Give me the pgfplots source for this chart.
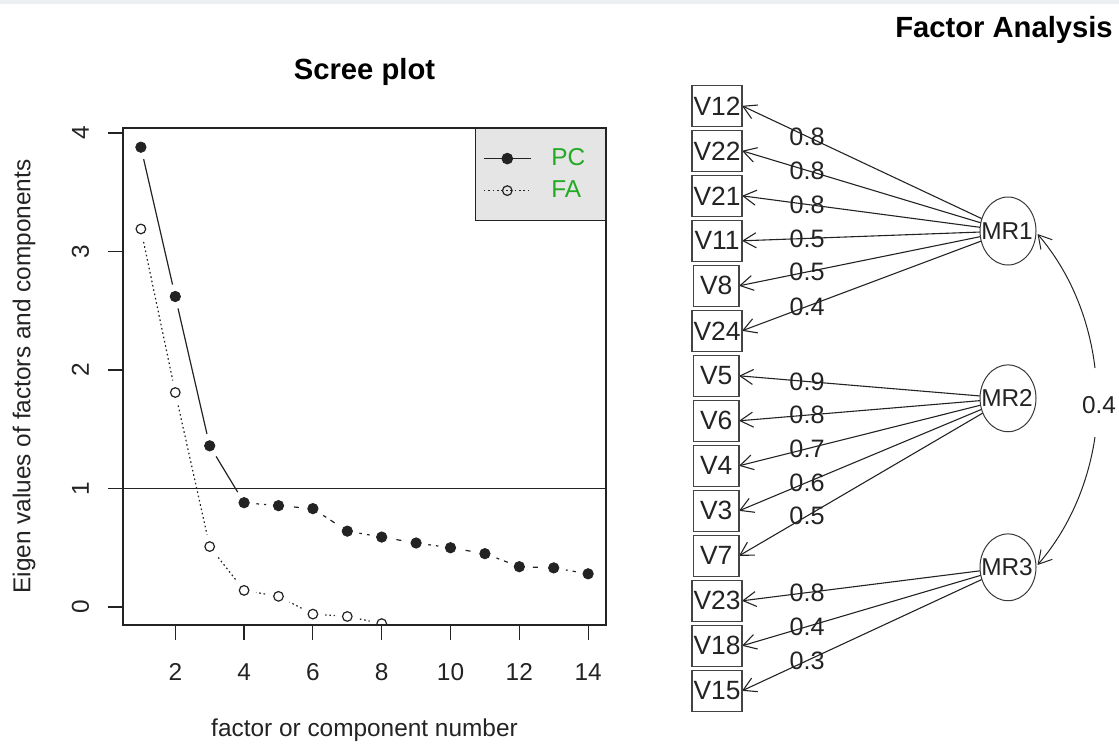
\documentclass[border=0pt]{standalone}
\usepackage{fontspec}
\setmainfont{Liberation Sans}
\usepackage{pgfplots}
\pgfplotsset{compat=1.18}
\usetikzlibrary{arrows.meta}
\definecolor{leggreen}{RGB}{34,170,34}
\definecolor{ink}{RGB}{35,35,35}
\definecolor{topband}{RGB}{236,239,242}
\newcommand\basefont{\fontsize{12.2}{14.6}\selectfont}
\newcommand\boxfont{\fontsize{13.2}{15.8}\selectfont}
\newcommand\loadfont{\fontsize{12.6}{15}\selectfont}
\newcommand\titlefont{\fontsize{14.6}{17.5}\selectfont\bfseries}
\tikzset{
  barb/.style={-{Straight Barb[length=6.5pt,width=7.5pt]}},
  load/.style={ink, line width=0.55pt, barb},
  lab/.style={font=\loadfont, text=ink, inner sep=0pt},
  mrlab/.style={font=\basefont, text=ink, inner sep=0pt},
  vbox/.style={draw=ink!85, line width=0.65pt, minimum height=20.5pt, inner sep=0pt, font=\boxfont, text=ink, fill=white},
}
\begin{document}
\begin{tikzpicture}
\useasboundingbox (0,0) rectangle (559.5pt,373pt);
% ---------------- Factor analysis diagram (pixel coordinates) ----------------
\begin{axis}[at={(0pt,0pt)}, anchor=south west, scale only axis,
  width=559.5pt, height=373pt, xmin=0, xmax=1119, ymin=0, ymax=746,
  y dir=reverse, hide axis, clip=false]
\fill[topband] (axis cs:0,0) rectangle (axis cs:1119,4);
\node[font=\titlefont, text=black, anchor=base] at (axis cs:364.5,79) {Scree plot};
\node[font=\titlefont, text=black, anchor=base] at (axis cs:1004,37) {Factor Analysis};
% loadings MR1
\addplot[load] coordinates {(1008,231) (742,105.8)} node[pos=0.7556,lab]{0.8};
\addplot[load] coordinates {(1008,231) (742,150.8)} node[pos=0.7556,lab]{0.8};
\addplot[load] coordinates {(1008,231) (742,195.8)} node[pos=0.7556,lab]{0.8};
\addplot[load] coordinates {(1008,231) (742,240.8)} node[pos=0.7556,lab]{0.5};
\addplot[load] coordinates {(1008,231) (739,285.8)} node[pos=0.7472,lab]{0.5};
\addplot[load] coordinates {(1008,231) (742,330.8)} node[pos=0.7556,lab]{0.4};
% loadings MR2
\addplot[load] coordinates {(1008,398.3) (739,375.8)} node[pos=0.7472,lab]{0.9};
\addplot[load] coordinates {(1008,398.3) (739,420.8)} node[pos=0.7472,lab]{0.8};
\addplot[load] coordinates {(1008,398.3) (739,465.8)} node[pos=0.7472,lab]{0.7};
\addplot[load] coordinates {(1008,398.3) (739,510.8)} node[pos=0.7472,lab]{0.6};
\addplot[load] coordinates {(1008,398.3) (739,555.8)} node[pos=0.7472,lab]{0.5};
% loadings MR3
\addplot[load] coordinates {(1008,567.3) (742,600.8)} node[pos=0.7556,lab]{0.8};
\addplot[load] coordinates {(1008,567.3) (742,645.8)} node[pos=0.7556,lab]{0.4};
\addplot[load] coordinates {(1008,567.3) (742,690.8)} node[pos=0.7556,lab]{0.3};
% observed variables
\node[vbox, minimum width=25pt] at (axis cs:717,105.8) {V12};
\node[vbox, minimum width=25pt] at (axis cs:717,150.8) {V22};
\node[vbox, minimum width=25pt] at (axis cs:717,195.8) {V21};
\node[vbox, minimum width=25pt] at (axis cs:717,240.8) {V11};
\node[vbox, minimum width=22.8pt] at (axis cs:716.2,285.8) {V8};
\node[vbox, minimum width=25pt] at (axis cs:717,330.8) {V24};
\node[vbox, minimum width=22.8pt] at (axis cs:716.2,375.8) {V5};
\node[vbox, minimum width=22.8pt] at (axis cs:716.2,420.8) {V6};
\node[vbox, minimum width=22.8pt] at (axis cs:716.2,465.8) {V4};
\node[vbox, minimum width=22.8pt] at (axis cs:716.2,510.8) {V3};
\node[vbox, minimum width=22.8pt] at (axis cs:716.2,555.8) {V7};
\node[vbox, minimum width=25pt] at (axis cs:717,600.8) {V23};
\node[vbox, minimum width=25pt] at (axis cs:717,645.8) {V18};
\node[vbox, minimum width=25pt] at (axis cs:717,690.8) {V15};
% latent factors
\draw[ink!90, line width=0.5pt, fill=white] (axis cs:1008,231) ellipse [x radius=14pt, y radius=17pt];
\draw[ink!90, line width=0.5pt, fill=white] (axis cs:1008,398.3) ellipse [x radius=14pt, y radius=16.7pt];
\draw[ink!90, line width=0.5pt, fill=white] (axis cs:1008,567.3) ellipse [x radius=14pt, y radius=16.7pt];
\node[mrlab] at (axis cs:1007,231) {MR1};
\node[mrlab] at (axis cs:1007,398.3) {MR2};
\node[mrlab] at (axis cs:1007,567.3) {MR3};
% correlation
\draw[ink, line width=0.5pt, barb] (axis cs:1095,368) .. controls (axis cs:1089.1,319.1) and (axis cs:1070.2,272.2) .. (axis cs:1037.5,234);
\draw[ink, line width=0.5pt, barb] (axis cs:1095,437) .. controls (axis cs:1088.1,483.7) and (axis cs:1069,528.6) .. (axis cs:1037.5,565);
\node[mrlab] at (axis cs:1099,405) {0.4};
\end{axis}
% ---------------- Scree plot ----------------
\begin{axis}[at={(61.5pt,60.5pt)}, anchor=south west, scale only axis,
  width=241.5pt, height=248.5pt,
  xmin=0.48, xmax=14.52, ymin=-0.152, ymax=4.042,
  xtick={2,4,6,8,10,12,14}, ytick={0,1,2,3,4},
  xtick pos=bottom, ytick pos=left,
  tick align=outside, major tick length=7.5pt,
  every tick/.style={ink, line width=0.6pt},
  axis line style={ink, line width=0.6pt},
  axis on top, clip marker paths=true,
  /pgf/number format/assume math mode=true,
  tick label style={font=\basefont, text=ink},
  xticklabel style={anchor=base, yshift=-20pt},
  yticklabel style={xshift=-9.5pt, rotate=90, anchor=base},
  every axis x label/.style={at={(axis description cs:0.5,0)}, yshift=-55.5pt, anchor=base, font=\basefont, text=ink},
  every axis y label/.style={at={(axis description cs:0,0.5)}, xshift=-46.25pt, rotate=90, anchor=base, font=\basefont, text=ink},
  xlabel={factor or component number},
  ylabel={Eigen values of factors and components},
  legend cell align=left,
  legend style={at={(rel axis cs:1,1)}, anchor=north east, fill=black!10, draw=ink,
    line width=0.6pt, inner xsep=4pt, inner ysep=7pt, row sep=0pt,
    font=\basefont, text=leggreen, nodes={inner sep=0pt, minimum height=16pt}},
]
\addlegendimage{ink, line width=0.6pt, mark=*, mark size=2.6pt, mark options={fill=ink},
  legend image code/.code={\draw[mark repeat=2,mark phase=2] plot coordinates {(0pt,0pt) (11.75pt,0pt) (23.5pt,0pt)};}}
\addlegendentry{\hspace*{10pt}\makebox[23pt][l]{PC}}
\addlegendimage{ink, line width=0.6pt, dash pattern=on 0.8pt off 1.4pt, mark=o, mark size=2.4pt, mark options={solid, fill=white},
  legend image code/.code={\draw[mark repeat=2,mark phase=2] plot coordinates {(0pt,0pt) (11.75pt,0pt) (23.5pt,0pt)};}}
\addlegendentry{\hspace*{10pt}\makebox[23pt][l]{FA}}
% reference line
\addplot[ink, line width=0.6pt, forget plot] coordinates {(0.48,1) (14.52,1)};
% PC lines
\addplot[ink, line width=0.6pt, forget plot] coordinates {(1,3.88) (2,2.62) (3,1.36) (4,0.88)};
\addplot[ink, line width=0.6pt, dash pattern=on 2.5pt off 2.5pt, forget plot] coordinates {
  (4,0.88) (5,0.855) (6,0.83) (7,0.64) (8,0.59) (9,0.54) (10,0.50) (11,0.45) (12,0.34) (13,0.33) (14,0.28)};
% FA line
\addplot[ink, line width=0.6pt, dash pattern=on 0.8pt off 1.4pt, forget plot] coordinates {
  (1,3.19) (2,1.81) (3,0.51) (4,0.14) (5,0.09) (6,-0.06) (7,-0.08) (8,-0.14)};
% gaps around points (type = "b")
\addplot[white, only marks, mark=*, mark size=6pt, forget plot] coordinates {
  (1,3.88) (2,2.62) (3,1.36) (4,0.88) (5,0.855) (6,0.83) (7,0.64) (8,0.59) (9,0.54) (10,0.50) (11,0.45) (12,0.34) (13,0.33) (14,0.28)};
\addplot[white, only marks, mark=*, mark size=6pt, forget plot] coordinates {
  (1,3.19) (2,1.81) (3,0.51) (4,0.14) (5,0.09) (6,-0.06) (7,-0.08) (8,-0.14)};
% points
\addplot[ink, only marks, mark=*, mark size=2.6pt, mark options={fill=ink, draw=ink}, forget plot] coordinates {
  (1,3.88) (2,2.62) (3,1.36) (4,0.88) (5,0.855) (6,0.83) (7,0.64) (8,0.59) (9,0.54) (10,0.50) (11,0.45) (12,0.34) (13,0.33) (14,0.28)};
\addplot[ink, only marks, mark=o, mark size=2.4pt, mark options={draw=ink, fill=white, line width=0.6pt}, forget plot] coordinates {
  (1,3.19) (2,1.81) (3,0.51) (4,0.14) (5,0.09) (6,-0.06) (7,-0.08) (8,-0.14)};
\end{axis}
\end{tikzpicture}
\end{document}
